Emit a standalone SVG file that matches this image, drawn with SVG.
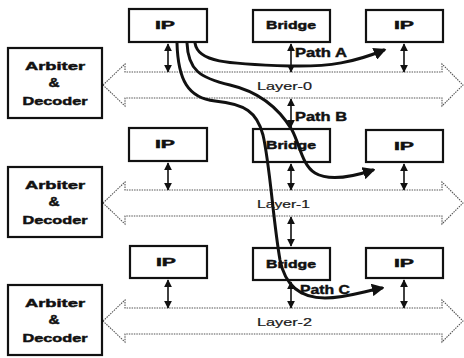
<svg xmlns="http://www.w3.org/2000/svg" width="464" height="358" viewBox="0 0 464 358">
  <style>
    .box { fill: #ffffff; stroke: #111111; stroke-width: 2.2; }
    .bus { fill: #ffffff; stroke: #555555; stroke-width: 1.1; stroke-dasharray: 1.5 1; }
    .lbl { font-family: "Liberation Sans", Arial, sans-serif; font-weight: bold; font-size: 11px; fill: #111111; stroke: #111111; stroke-width: 0.45; }
    .amp { font-family: "Liberation Sans", Arial, sans-serif; font-weight: bold; font-size: 12px; fill: #111111; stroke: #111111; stroke-width: 0.45; }
    .layer { font-family: "Liberation Sans", Arial, sans-serif; font-size: 11px; fill: #1a1a1a; stroke: #1a1a1a; stroke-width: 0.2; }
    .plbl { font-family: "Liberation Sans", Arial, sans-serif; font-weight: bold; font-size: 12px; fill: #111111; stroke: #111111; stroke-width: 0.4; }
    .link { fill: none; stroke: #111111; stroke-width: 1.6; marker-start: url(#tip); marker-end: url(#tip); }
    .route { fill: none; stroke: #111111; stroke-width: 3; stroke-linecap: round; }
  </style>
  <defs>
    <marker id="tip" viewBox="0 0 10 10" refX="9" refY="5" markerWidth="5" markerHeight="5" orient="auto-start-reverse" markerUnits="strokeWidth">
      <path d="M0,0 L10,5 L0,10 z" fill="#111111"/>
    </marker>
    <marker id="head" viewBox="0 0 10 10" refX="8" refY="5" markerWidth="4.2" markerHeight="4.2" orient="auto" markerUnits="strokeWidth">
      <path d="M0,0 L10,5 L0,10 z" fill="#111111"/>
    </marker>
    <!-- double-headed bus arrow, centred on y=85 -->
    <polygon id="busShape" points="103,85 125,64 125,72 442,72 442,64 463,85 442,106 442,98 125,98 125,106"/>
  </defs>

  <!-- buses -->
  <g id="bus0"><use href="#busShape" class="bus"/><text class="layer" x="257" y="90" textLength="55" lengthAdjust="spacingAndGlyphs">Layer-0</text></g>
  <g id="bus1" transform="translate(0,118)"><use href="#busShape" class="bus"/><text class="layer" x="257" y="90" textLength="53" lengthAdjust="spacingAndGlyphs">Layer-1</text></g>
  <g id="bus2" transform="translate(0,236)"><use href="#busShape" class="bus"/><text class="layer" x="257" y="90" textLength="55" lengthAdjust="spacingAndGlyphs">Layer-2</text></g>

  <!-- arbiters -->
  <g id="arb0">
    <rect class="box" x="8" y="48" width="94" height="70"/>
    <text class="lbl" x="55" y="70" text-anchor="middle" textLength="60" lengthAdjust="spacingAndGlyphs">Arbiter</text>
    <text class="amp" x="54" y="87" text-anchor="middle" textLength="11" lengthAdjust="spacingAndGlyphs">&amp;</text>
    <text class="lbl" x="55" y="105" text-anchor="middle" textLength="65" lengthAdjust="spacingAndGlyphs">Decoder</text>
  </g>
  <g id="arb1" transform="translate(0,119)">
    <rect class="box" x="8" y="48" width="94" height="70"/>
    <text class="lbl" x="55" y="70" text-anchor="middle" textLength="60" lengthAdjust="spacingAndGlyphs">Arbiter</text>
    <text class="amp" x="54" y="87" text-anchor="middle" textLength="11" lengthAdjust="spacingAndGlyphs">&amp;</text>
    <text class="lbl" x="55" y="105" text-anchor="middle" textLength="65" lengthAdjust="spacingAndGlyphs">Decoder</text>
  </g>
  <g id="arb2" transform="translate(0,237)">
    <rect class="box" x="8" y="48" width="94" height="70"/>
    <text class="lbl" x="55" y="70" text-anchor="middle" textLength="60" lengthAdjust="spacingAndGlyphs">Arbiter</text>
    <text class="amp" x="54" y="87" text-anchor="middle" textLength="11" lengthAdjust="spacingAndGlyphs">&amp;</text>
    <text class="lbl" x="55" y="105" text-anchor="middle" textLength="65" lengthAdjust="spacingAndGlyphs">Decoder</text>
  </g>

  <!-- row 0 -->
  <g id="ip0a"><rect class="box" x="129" y="9" width="78" height="33"/><text class="lbl" x="165" y="29" text-anchor="middle" textLength="20" lengthAdjust="spacingAndGlyphs">IP</text></g>
  <g id="br0"><rect class="box" x="253" y="10" width="77" height="32"/><text class="lbl" x="291" y="29" text-anchor="middle" textLength="50" lengthAdjust="spacingAndGlyphs">Bridge</text></g>
  <g id="ip0b"><rect class="box" x="366" y="10" width="77" height="32"/><text class="lbl" x="404" y="29" text-anchor="middle" textLength="20" lengthAdjust="spacingAndGlyphs">IP</text></g>

  <!-- row 1 -->
  <g id="ip1a"><rect class="box" x="129" y="128" width="78" height="33"/><text class="lbl" x="165" y="148" text-anchor="middle" textLength="20" lengthAdjust="spacingAndGlyphs">IP</text></g>
  <g id="br1"><rect class="box" x="253" y="129" width="77" height="33"/><text class="lbl" x="291" y="149" text-anchor="middle" textLength="50" lengthAdjust="spacingAndGlyphs">Bridge</text></g>
  <g id="ip1b"><rect class="box" x="366" y="130" width="77" height="32"/><text class="lbl" x="404" y="150" text-anchor="middle" textLength="20" lengthAdjust="spacingAndGlyphs">IP</text></g>

  <!-- row 2 -->
  <g id="ip2a"><rect class="box" x="130" y="246" width="77" height="32"/><text class="lbl" x="166" y="266" text-anchor="middle" textLength="20" lengthAdjust="spacingAndGlyphs">IP</text></g>
  <g id="br2"><rect class="box" x="253" y="248" width="77" height="32"/><text class="lbl" x="291" y="268" text-anchor="middle" textLength="50" lengthAdjust="spacingAndGlyphs">Bridge</text></g>
  <g id="ip2b"><rect class="box" x="366" y="248" width="77" height="30"/><text class="lbl" x="404" y="267" text-anchor="middle" textLength="20" lengthAdjust="spacingAndGlyphs">IP</text></g>

  <!-- connectors -->
  <g id="connectors">
    <line class="link" x1="168" y1="44" x2="168" y2="72"/>
    <line class="link" x1="291" y1="44" x2="291" y2="72"/>
    <line class="link" x1="404" y1="44" x2="404" y2="72"/>
    <line class="link" x1="291" y1="99" x2="291" y2="127"/>

    <line class="link" x1="168" y1="163" x2="168" y2="190"/>
    <line class="link" x1="291" y1="164" x2="291" y2="190"/>
    <line class="link" x1="404" y1="164" x2="404" y2="190"/>
    <line class="link" x1="291" y1="217" x2="291" y2="246"/>

    <line class="link" x1="168" y1="280" x2="168" y2="308"/>
    <line class="link" x1="291" y1="282" x2="291" y2="308"/>
    <line class="link" x1="404" y1="280" x2="404" y2="308"/>

    <!-- Path A -->
    <path class="route" marker-end="url(#head)" d="M195,43 C198,62 225,64 290,66 C330,67 355,62 384,50"/>
    <!-- Path B -->
    <path class="route" marker-end="url(#head)" d="M187,43 C188,70 200,78 230,85 C260,92 280,110 292,130 C300,145 302,165 315,173 C330,182 355,176 373,170"/>
    <!-- Path C -->
    <path class="route" marker-end="url(#head)" d="M177,43 C178,80 188,98 215,101 C245,104 257,112 263,135 C270,165 273,220 280,260 C285,285 300,298 325,298 C345,298 362,292 382,288"/>

    <text class="plbl" x="295" y="57" textLength="52" lengthAdjust="spacingAndGlyphs">Path A</text>
    <text class="plbl" x="295" y="121" textLength="52" lengthAdjust="spacingAndGlyphs">Path B</text>
    <text class="plbl" x="300" y="294" textLength="50" lengthAdjust="spacingAndGlyphs">Path C</text>
  </g>
</svg>
